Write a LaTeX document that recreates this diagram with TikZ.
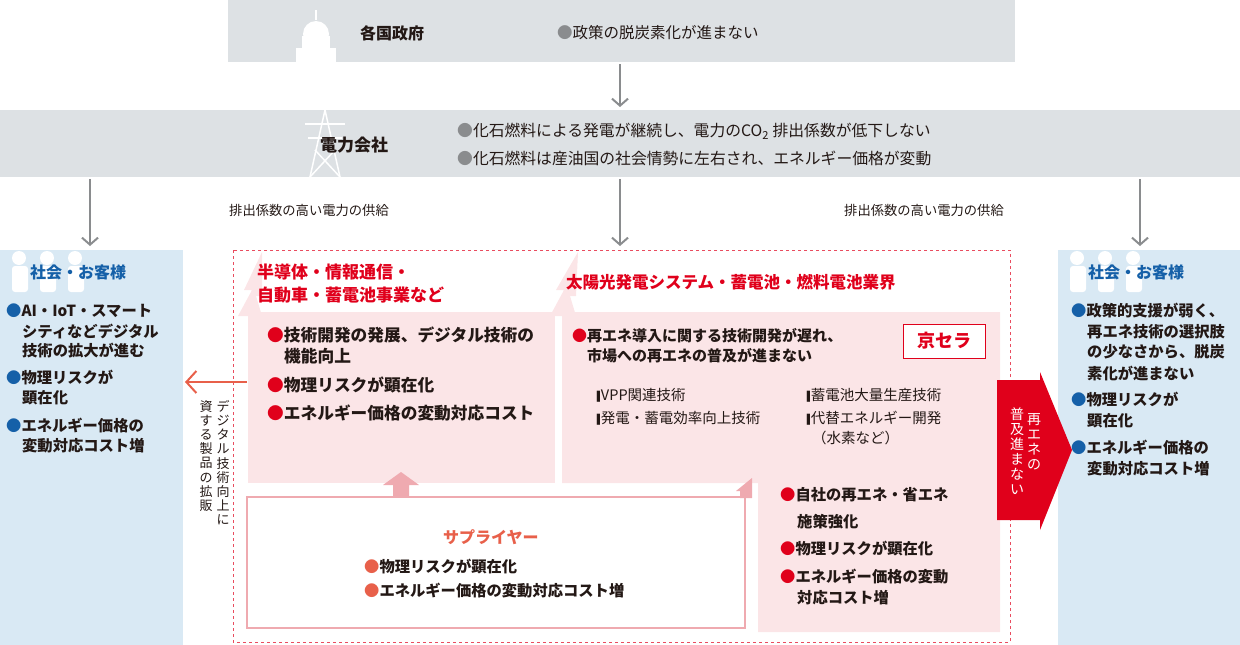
\documentclass[tikz,border=0pt]{standalone}
\usepackage{fontspec}
\setmainfont{Noto Sans CJK JP}
\newfontfamily\djfont{DejaVu Sans}
\usetikzlibrary{arrows.meta}
\definecolor{gbox}{HTML}{DDE1E4}
\definecolor{garr}{HTML}{8A8C8E}
\definecolor{bbox}{HTML}{D9E9F4}
\definecolor{bblue}{HTML}{1560A8}
\definecolor{kred}{HTML}{E0001B}
\definecolor{pbox}{HTML}{FBE5E7}
\definecolor{pline}{HTML}{EFAAB0}
\definecolor{orng}{HTML}{E8604A}
\definecolor{txt}{HTML}{231815}
\tikzset{
 t/.style={anchor=west,inner sep=0pt,text=txt},
 bt/.style={t,font=\bfseries\fontsize{15.3}{16}\selectfont},
 gar/.style={draw=garr,line width=2pt,-{Straight Barb[length=7pt,width=16pt]}},
 vt/.style={inner sep=0pt,align=center,font=\fontsize{13}{14.2}\selectfont,text=txt},
}
\newcommand{\rb}{{\color{kred}●}}
\newcommand{\bb}{{\color{bblue}●}}
\newcommand{\ob}{{\color{orng}●}}
\newcommand{\gb}{{\color{garr}●}}
\newcommand{\sqbar}{{\djfont\scalebox{0.6}[1]{▮}}}
\begin{document}
\begin{tikzpicture}[x=1pt,y=-1pt]
\useasboundingbox (0,0) rectangle (1240,645);
\fill[gbox] (228,0) rectangle (1015,62);
\fill[gbox] (0,110) rectangle (1240,177);
% building icon
\begin{scope}[white]
\fill (296,62) rectangle (336,48);
\fill (302,48) rectangle (330,36);
\fill (316,34) circle (13);
\fill (315,20) rectangle (317,10);
\end{scope}
% tower icon
\begin{scope}[draw=white,line width=1.5pt]
\draw (325,110) -- (310,177) (325,110) -- (340,177);
\draw (305,124) -- (345,124) (308,138) -- (342,138);
\draw (310,177) -- (335,150) (340,177) -- (315,150);
\end{scope}
\node[bt,font=\bfseries\fontsize{16}{18}\selectfont] (gov) at (360,33) {各国政府};
\node[t,font=\fontsize{15.5}{16}\selectfont] (govt) at (557,33) {\gb 政策の脱炭素化が進まない};
\node[bt,font=\bfseries\fontsize{17}{18}\selectfont] (pw) at (320,145) {電力会社};
\node[t,font=\fontsize{15.8}{16}\selectfont] (pw1) at (457,131) {\gb 化石燃料による発電が継続し、電力のCO\textsubscript{2} 排出係数が低下しない};
\node[t,font=\fontsize{15.8}{16}\selectfont] (pw2) at (457,158) {\gb 化石燃料は産油国の社会情勢に左右され、エネルギー価格が変動};
\coordinate (g1) at (620,64); \coordinate (g2) at (620,107);
\draw[gar] (g1) -- (g2);
\foreach \x/\n in {90/a,620/b,1140/c}{
  \coordinate (s\n) at (\x,179); \coordinate (e\n) at (\x,246);
  \draw[gar] (s\n) -- (e\n);}
\node[t,font=\fontsize{13.3}{14}\selectfont] (l1) at (229,210) {排出係数の高い電力の供給};
\node[t,font=\fontsize{13.3}{14}\selectfont] (l2) at (844,210) {排出係数の高い電力の供給};
% blue boxes
\fill[bbox] (0,250) rectangle (183,645);
\fill[bbox] (1058,250) rectangle (1240,645);
\foreach \x in {12,40,68,1070,1098,1126}{
 \fill[white] (\x+7,258) circle (7);
 \fill[white,rounded corners=3pt] (\x,266) rectangle (\x+16,292);}
\node[t,text=bblue,font=\bfseries\fontsize{16}{18}\selectfont] (bl) at (30,272) {社会・お客様};
\node[t,text=bblue,font=\bfseries\fontsize{16}{18}\selectfont] (br) at (1088,272) {社会・お客様};
\begin{scope}[every node/.style={bt}]
\node at (6,311) {\bb AI・IoT・スマート};
\node at (22,331) {シティなどデジタル};
\node at (22,351) {技術の拡大が進む};
\node at (6,378) {\bb 物理リスクが};
\node at (22,398) {顕在化};
\node at (6,426) {\bb エネルギー価格の};
\node at (22,446) {変動対応コスト増};
\node at (1071,311) {\bb 政策的支援が弱く、};
\node at (1087,332) {再エネ技術の選択肢};
\node at (1087,352) {の少なさから、脱炭};
\node at (1087,373) {素化が進まない};
\node at (1071,400) {\bb 物理リスクが};
\node at (1087,421) {顕在化};
\node at (1071,448) {\bb エネルギー価格の};
\node at (1087,469) {変動対応コスト増};
\end{scope}
\draw[kred!70,dashed,line width=0.8pt] (233,250) rectangle (1010,642);
% lightning decor
\fill[pbox] (262,252) -- (244,290) -- (252,290) -- (238,316) -- (262,316) -- (256,296) -- (262,296) -- cycle;
\fill[pbox] (578,252) -- (556,290) -- (564,290) -- (550,316) -- (576,316) -- (570,296) -- (576,296) -- cycle;
% pink boxes
\fill[pbox] (248,312) rectangle (555,483);
\fill[pbox] (562,312) -- (1000,312) -- (1000,632) -- (758,632) -- (758,483) -- (562,483) -- cycle;
\node[t,text=kred,font=\bfseries\fontsize{17}{18}\selectfont] (h1) at (257,272) {半導体・情報通信・};
\node[t,text=kred,font=\bfseries\fontsize{17}{18}\selectfont] (h1b) at (257,295) {自動車・蓄電池事業など};
\node[t,text=kred,font=\bfseries\fontsize{16.5}{18}\selectfont] (h2) at (566,282) {太陽光発電システム・蓄電池・燃料電池業界};
\begin{scope}[every node/.style={bt,font=\bfseries\fontsize{16.7}{18}\selectfont}]
\node at (267,335) {\rb 技術開発の発展、デジタル技術の};
\node at (284,356) {機能向上};
\node at (267,385) {\rb 物理リスクが顕在化};
\node at (267,413) {\rb エネルギー価格の変動対応コスト};
\end{scope}
\node[draw=kred,fill=white,line width=1pt,minimum width=82pt,minimum height=34pt,inner sep=0pt,text=kred,font=\bfseries\fontsize{18}{20}\selectfont] (kc) at (944,341) {京セラ};
\node[bt,font=\bfseries\fontsize{15}{16}\selectfont] at (572,336) {\rb 再エネ導入に関する技術開発が遅れ、};
\node[bt,font=\bfseries\fontsize{15}{16}\selectfont] at (587,356) {市場への再エネの普及が進まない};
\begin{scope}[every node/.style={t,font=\fontsize{14.5}{16}\selectfont}]
\node at (596,395) {\sqbar VPP関連技術};
\node at (596,418) {\sqbar 発電・蓄電効率向上技術};
\node at (806,395) {\sqbar 蓄電池大量生産技術};
\node at (806,418) {\sqbar 代替エネルギー開発};
\node at (812,438) {（水素など）};
\end{scope}
\begin{scope}[every node/.style={bt}]
\node at (780,495) {\rb 自社の再エネ・省エネ};
\node at (797,522) {施策強化};
\node at (780,549) {\rb 物理リスクが顕在化};
\node at (780,577) {\rb エネルギー価格の変動};
\node at (797,598) {対応コスト増};
\end{scope}
% supplier
\draw[pline,line width=2pt,fill=white] (247,497) rectangle (745,628);
\fill[pline] (740,498) -- (740,491) -- (736,491) -- (752,478) -- (752,498) -- cycle;
\fill[pline] (393,497) -- (393,485) -- (383,485) -- (401,472) -- (419,485) -- (409,485) -- (409,497) -- cycle;
\node[t,text=orng,font=\bfseries\fontsize{16}{18}\selectfont] (sup) at (443,537) {サプライヤー};
\node[bt] at (364,567) {\ob 物理リスクが顕在化};
\node[bt] at (364,591) {\ob エネルギー価格の変動対応コスト増};
\coordinate (oa) at (247,382); \coordinate (ob) at (185,382);
\draw[orng,line width=2pt,-{Straight Barb[length=10pt,width=22pt]}] (oa) -- (ob);
\node[vt,anchor=north] (v1) at (223,400) {デ\\ジ\\タ\\ル\\技\\術\\向\\上\\に};
\node[vt,anchor=north] (v2) at (206,400) {資\\す\\る\\製\\品\\の\\拡\\販};
\fill[kred] (997,380) -- (1040,380) -- (1040,372) -- (1072,450) -- (1040,530) -- (1040,520) -- (997,520) -- cycle;
\node[vt,text=white,anchor=north,font=\fontsize{14}{15}\selectfont] (r1) at (1034,413) {再\\エ\\ネ\\の};
\node[vt,text=white,anchor=north,font=\fontsize{14}{15}\selectfont] (r2) at (1017,408) {普\\及\\進\\ま\\な\\い};
\end{tikzpicture}
\end{document}
